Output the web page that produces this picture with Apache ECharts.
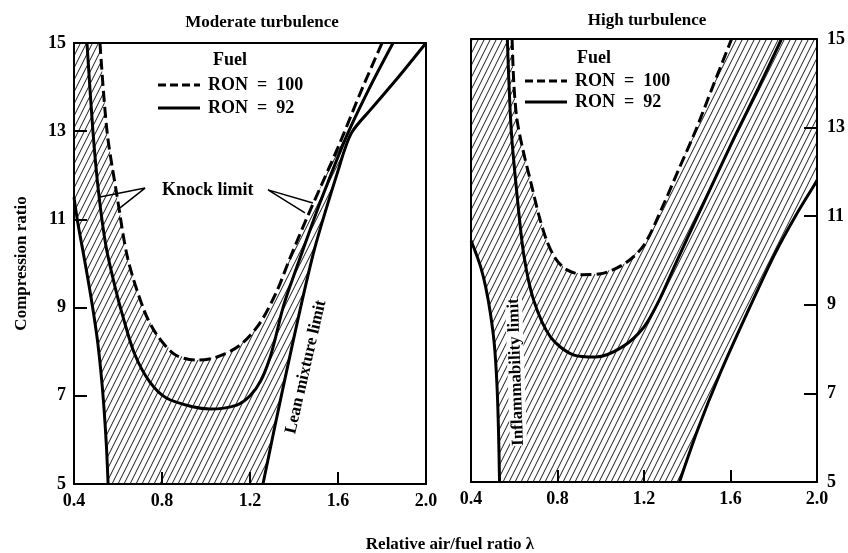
<!DOCTYPE html>
<html><head><meta charset="utf-8">
<script src="https://cdn.jsdelivr.net/npm/echarts@6/dist/echarts.min.js"></script>
<style>html,body{margin:0;padding:0;background:#fff}#c{width:848px;height:553px}</style>
</head><body><div id="c"></div>
<script>
// Axis ticks
const xTicks = [0.4, 0.8, 1.2, 1.6, 2.0];
const yTicks = [5, 7, 9, 11, 13, 15];
const titles = ['Moderate turbulence', 'High turbulence'];
const legendLabels = ['RON  =  100', 'RON  =  92'];

// Moderate turbulence panel  [lambda, compression ratio]
const modRich = [[0.555,5],[0.548,5.8],[0.538,6.6],[0.525,7.4],[0.508,8.2],[0.488,8.9],[0.465,9.6],[0.44,10.3],[0.418,10.9],[0.40,11.5]];
const modKnock100 = [[0.518,15],[0.55,13],[0.595,11.55],[0.645,10.1],[0.72,8.92],[0.777,8.38],[0.86,7.93],[0.96,7.81],[1.05,7.88],[1.155,8.15],[1.245,8.65],[1.32,9.35],[1.38,10.1],[1.46,11.05],[1.54,11.95],[1.61,12.75],[1.70,13.85],[1.80,15]];
const modKnock92 = [[0.459,15],[0.486,13],[0.512,11.6],[0.545,10.4],[0.585,9.5],[0.625,8.75],[0.677,7.93],[0.745,7.31],[0.82,6.95],[0.94,6.75],[1.018,6.70],[1.14,6.79],[1.2,7.0],[1.25,7.35],[1.29,7.85],[1.32,8.4],[1.35,9.0],[1.39,9.6],[1.44,10.3],[1.52,11.4],[1.64,12.9],[1.74,13.95],[1.85,15]];
const modLean = [[1.259,5],[1.35,7.18],[1.486,10.19],[1.6,12.1],[1.66,12.95],[1.75,13.5],[1.87,14.2],[2.0,15]];
const modKnockPointerA = [[0.518,11.51],[0.723,11.71],[0.609,11.26]];
const modKnockPointerB = [[1.486,11.37],[1.282,11.67],[1.45,11.15]];

// High turbulence panel
const highRich = [[0.532,5],[0.527,6.2],[0.52,7.2],[0.508,8.1],[0.49,8.8],[0.468,9.4],[0.445,9.85],[0.42,10.2],[0.40,10.45]];
const highKnock100 = [[0.59,15],[0.598,14],[0.612,13.2],[0.64,12.5],[0.675,11.8],[0.715,11.0],[0.75,10.45],[0.79,10.05],[0.84,9.8],[0.918,9.68],[1.0,9.7],[1.114,9.94],[1.2,10.35],[1.28,11.15],[1.36,12.05],[1.44,12.95],[1.52,13.95],[1.605,15]];
const highKnock92 = [[0.568,15],[0.586,12.95],[0.614,11.43],[0.645,10.1],[0.69,9.1],[0.768,8.27],[0.873,7.87],[0.977,7.82],[1.1,8.05],[1.2,8.5],[1.27,9.1],[1.33,9.75],[1.40,10.5],[1.5,11.55],[1.62,12.8],[1.73,13.9],[1.836,15]];
const highLean = [[1.364,5],[1.45,6.2],[1.545,7.37],[1.668,8.72],[1.8,10.1],[1.9,11.0],[2.0,11.8]];

// hatched regions built from the curves
const modHatch = modRich.concat([[0.4,15]], modKnock100.filter(p => p[0] <= 1.62), modLean.filter(p => p[1] <= 13).reverse());
const highHatch = highRich.concat([[0.4,15]], highKnock100, [[2.0,15]], highLean.slice().reverse());

function makeHatch(){
  const w = 6, h = 12, c = document.createElement('canvas');
  c.width = w; c.height = h;
  const g = c.getContext('2d');
  g.strokeStyle = '#1a1a1a'; g.lineWidth = 1;
  for (const x0 of [-w, 0, w]) { g.beginPath(); g.moveTo(x0, h); g.lineTo(x0 + w, 0); g.stroke(); }
  return c;
}
const hatchCanvas = makeHatch();

const FONT = 'Liberation Serif';
const chart = echarts.init(document.getElementById('c'), null, {renderer: 'canvas'});

function hatchSeries(pts, i){
  return {type:'custom', xAxisIndex:i, yAxisIndex:i, clip:true, silent:true, z:1,
    data:[pts[0]],
    renderItem:(p, api) => ({type:'polygon', shape:{points: pts.map(q => api.coord(q))},
      style:{fill:{image: hatchCanvas, repeat:'repeat'}, stroke:null}})};
}
function curve(data, i, dashed, w){
  return {type:'line', xAxisIndex:i, yAxisIndex:i, data, showSymbol:false, smooth:0.3, silent:true, z:3, clip:true,
    lineStyle:{color:'#000', width:w || 3, type: dashed ? [11,5] : 'solid'}};
}
function pointer(data){
  return {type:'line', xAxisIndex:0, yAxisIndex:0, data, showSymbol:false, silent:true, z:4,
    lineStyle:{color:'#000', width:1.5}};
}

const lab = {fontFamily: FONT, fontWeight:'bold', fontSize:18, color:'#000'};
function xAx(g){ return {type:'value', gridIndex:g, min:0.4, max:2.0, interval:0.4, z:5,
  axisLine:{lineStyle:{color:'#000', width:2}}, axisTick:{inside:true, length:12, lineStyle:{color:'#000', width:2}},
  axisLabel:Object.assign({margin:8, formatter: v => v.toFixed(1)}, lab), splitLine:{show:false}}; }
function yAx(g, pos){ return {type:'value', gridIndex:g, position:pos, min:5, max:15, interval:2, z:5,
  axisLine:{show:true, lineStyle:{color:'#000', width:2}}, axisTick:{show:true, inside:true, length:13, lineStyle:{color:'#000', width:2}},
  axisLabel:Object.assign({margin: pos === 'left' ? 8 : 10}, lab), splitLine:{show:false}}; }
function frameX(g){ return {type:'value', gridIndex:g, position:'top', min:0.4, max:2.0, z:5,
  axisLine:{lineStyle:{color:'#000', width:2}}, axisTick:{show:false}, axisLabel:{show:false}, splitLine:{show:false}}; }
function frameY(g, pos){ return {type:'value', gridIndex:g, position:pos, min:5, max:15, z:5,
  axisLine:{show:true, lineStyle:{color:'#000', width:2}}, axisTick:{show:false}, axisLabel:{show:false}, splitLine:{show:false}}; }

const yLeft = yAx(0, 'left');
yLeft.name = 'Compression ratio'; yLeft.nameLocation = 'middle'; yLeft.nameGap = 44; yLeft.nameRotate = 90;
yLeft.nameTextStyle = {fontFamily: FONT, fontWeight:'bold', fontSize:17, color:'#000'};

function txt(text, x, y, opts){
  return Object.assign({type:'text', x, y, z:10, style:Object.assign({text, fontFamily:FONT, fontWeight:'bold', fontSize:18, fill:'#000', textAlign:'left', textVerticalAlign:'middle'}, opts || {})});
}
function seg(x1, y1, x2, y2, dashed){
  return {type:'line', z:10, shape:{x1, y1, x2, y2}, style:{stroke:'#000', lineWidth:3, lineDash: dashed ? [8,4] : null}};
}

chart.setOption({
  animation:false,
  backgroundColor:'#fff',
  grid:[{left:74, top:43, width:352, height:441, show:false},
        {left:471, top:39, width:352, height:443, show:false}],
  xAxis:[xAx(0), xAx(1), frameX(0), frameX(1)],
  yAxis:[yLeft, yAx(1, 'right'), frameY(0, 'right'), frameY(1, 'left')],
  series:[
    hatchSeries(modHatch, 0),
    hatchSeries(highHatch, 1),
    curve(modRich, 0, false), curve(modKnock100, 0, true), curve(modKnock92, 0, false), curve(modLean, 0, false),
    curve(highRich, 1, false), curve(highKnock100, 1, true), curve(highKnock92, 1, false), curve(highLean, 1, false),
    pointer(modKnockPointerA), pointer(modKnockPointerB)
  ],
  graphic:[
    txt(titles[0], 262, 23, {textAlign:'center', fontSize:17}),
    txt(titles[1], 647, 21, {textAlign:'center', fontSize:17}),
    txt('Fuel', 213, 60), seg(158, 85, 200, 85, true), txt(legendLabels[0], 208, 85), seg(158, 108, 200, 108, false), txt(legendLabels[1], 208, 108),
    txt('Fuel', 577, 58), seg(525, 81, 567, 81, true), txt(legendLabels[0], 575, 81), seg(525, 102, 567, 102, false), txt(legendLabels[1], 575, 102),
    txt('Knock limit', 162, 190),
    {type:'text', x:306, y:367, rotation: 77 * Math.PI / 180, z:10, style:{text:'Lean mixture limit', fontFamily:FONT, fontWeight:'bold', fontSize:17, fill:'#000', textAlign:'center', textVerticalAlign:'middle'}},
    {type:'text', x:516, y:372, rotation: 92 * Math.PI / 180, z:10, style:{text:'Inflammability limit', fontFamily:FONT, fontWeight:'bold', fontSize:17, fill:'#000', textAlign:'center', textVerticalAlign:'middle', backgroundColor:'#fff'}},
    txt('Relative air/fuel ratio λ', 450, 545, {textAlign:'center', fontSize:17})
  ]
});
</script></body></html>
